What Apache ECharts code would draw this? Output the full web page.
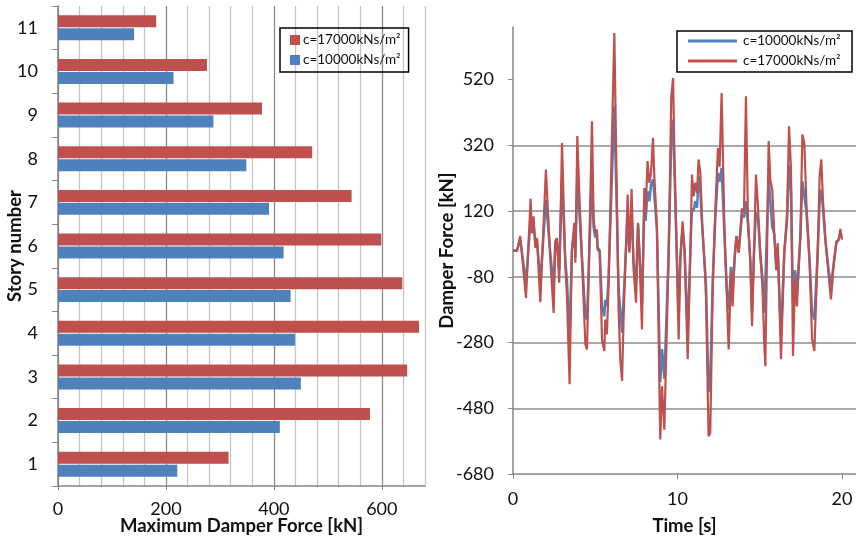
<!DOCTYPE html>
<html><head><meta charset="utf-8">
<script src="https://cdn.jsdelivr.net/npm/echarts@6/dist/echarts.min.js"></script>
<style>html,body{margin:0;padding:0;background:#fff}#c{width:856px;height:539px}</style>
</head><body><div id="c"></div>
<script>
// ---- left chart: maximum damper force per story ----
const stories = ['1','2','3','4','5','6','7','8','9','10','11'];
const maxForceC17000 = [316, 578, 647, 669, 638, 599, 544, 471, 378, 276, 182];
const maxForceC10000 = [221, 411, 450, 439, 431, 418, 391, 349, 288, 214, 141];
const forceTicks = [0, 200, 400, 600];

// ---- right chart: damper force time history ----
const timeSec = [0.00,0.24,0.44,0.50,0.79,1.07,1.15,1.25,1.36,1.46,1.66,2.00,2.27,2.47,2.57,2.67,2.81,2.98,3.18,3.28,3.44,3.58,3.73,3.79,3.91,4.03,4.40,4.50,4.80,4.90,5.00,5.10,5.14,5.27,5.41,5.55,5.61,5.71,5.81,6.16,6.42,6.52,6.63,6.72,6.97,7.07,7.21,7.33,7.48,7.60,7.70,7.84,7.98,8.06,8.18,8.29,8.39,8.51,8.59,8.75,8.95,9.06,9.20,9.46,9.62,9.73,9.81,10.07,10.17,10.31,10.43,10.62,10.78,10.88,10.98,11.08,11.19,11.28,11.39,11.49,11.65,11.73,11.89,11.99,12.14,12.30,12.46,12.56,12.68,12.86,13.00,13.11,13.25,13.35,13.47,13.58,13.72,13.92,14.04,14.16,14.28,14.43,14.53,14.65,14.77,14.89,15.03,15.16,15.28,15.34,15.54,15.64,15.76,15.88,16.01,16.09,16.29,16.49,16.66,16.78,16.90,17.02,17.14,17.26,17.47,17.59,17.71,17.83,18.03,18.18,18.32,18.52,18.64,18.74,18.84,18.99,19.19,19.33,19.49,19.65,19.79,19.90,20.00];
const forceC17000 = [0,-2,44,40,-144,157,53,104,8,38,-157,246,-27,-190,28,38,-98,327,-48,-139,-407,3,84,-37,348,175,-286,-301,393,94,53,64,3,-5,-271,-306,-210,-255,-108,662,-180,-331,-397,-210,170,-7,187,-58,-159,84,-27,-240,190,115,272,206,236,343,226,74,-575,-413,-545,-20,464,525,300,-271,-27,89,-7,-331,-10,231,165,206,175,277,236,94,-48,-139,-565,-555,-120,128,312,255,479,50,-139,-301,-68,-170,-27,44,-7,128,115,469,100,-40,-230,-10,231,135,-10,-108,-291,-352,333,216,185,54,-58,23,-331,-7,115,378,246,-321,-90,-170,50,353,327,150,-40,-271,-306,-10,226,277,155,33,-78,-149,-48,28,30,66,33];
const forceC10000 = [0,0,33,35,-98,94,53,80,20,30,-98,155,-10,-108,20,30,-60,216,-30,-90,-260,0,60,-20,226,120,-200,-210,236,70,40,50,10,0,-169,-200,-150,-170,-80,439,-120,-180,-250,-150,110,0,120,-40,-100,80,-20,-160,130,90,180,150,200,216,170,60,-400,-300,-390,-10,330,398,250,-210,-20,70,0,-250,0,128,120,150,130,226,180,80,-40,-100,-430,-400,-90,100,236,210,251,40,-120,-180,-50,-120,-20,44,-5,110,100,150,80,-30,-190,0,115,100,-10,-80,-190,-190,226,150,70,50,-60,10,-260,-5,90,260,180,-159,-60,-120,40,210,206,120,-30,-190,-210,-5,150,185,130,30,-60,-108,-40,20,35,50,44];
const timeTicks = [0, 10, 20];
const dampTicks = [-680, -480, -280, -80, 120, 320, 520];

const FONT = 'Lato';
const TXT = '#111';
const AX = '#868686';
const LBL = 18;
const NAME = 18.5;
const pairs = (xs, ys) => xs.map((x, i) => [x, ys[i]]);

const chart = echarts.init(document.getElementById('c'), null, {renderer: 'canvas'});
chart.setOption({
  animation: false,
  backgroundColor: '#fff',
  textStyle: {fontFamily: FONT, color: TXT},
  grid: [
    {left: 58, right: 431, top: 6, bottom: 53, containLabel: false, outerBoundsMode: 'none'},
    {left: 513, right: 0, top: 27, bottom: 65, containLabel: false, outerBoundsMode: 'none'}
  ],
  legend: [
    {
      orient: 'vertical', left: 280, top: 28,
      data: ['c=17000kNs/m²', 'c=10000kNs/m²'],
      icon: 'rect', itemWidth: 10, itemHeight: 10, itemGap: 6,
      padding: [5, 8, 5, 10],
      borderColor: '#000', borderWidth: 1.5,
      textStyle: {fontFamily: FONT, fontSize: 13.5, color: TXT, padding: [0,0,0,-2]}
    },
    {
      orient: 'vertical', left: 677, top: 31,
      data: ['c=10000kNs/m² ', 'c=17000kNs/m² '],
      icon: 'rect', itemWidth: 49, itemHeight: 3, itemGap: 6,
      padding: [3, 8, 4, 11],
      borderColor: '#000', borderWidth: 1.5,
      textStyle: {fontFamily: FONT, fontSize: 13.5, color: TXT, padding: [0,0,0,1]}
    }
  ],
  xAxis: [
    {
      gridIndex: 0, type: 'value', min: 0, max: 680, interval: 200,
      name: 'Maximum Damper Force [kN]', nameLocation: 'middle', nameGap: 31, nameMoveOverlap: false,
      nameTextStyle: {fontFamily: FONT, fontSize: NAME, fontWeight: 'bold', color: TXT},
      axisLine: {show: true, lineStyle: {color: AX, width: 1.5}},
      axisTick: {show: true, length: 4, lineStyle: {color: AX}, customValues: forceTicks},
      axisLabel: {fontFamily: FONT, fontSize: LBL, color: TXT, margin: 14, customValues: forceTicks},
      splitLine: {show: false}
    },
    {
      gridIndex: 1, type: 'value', min: 0, max: 20.85, interval: 10,
      name: 'Time [s]', nameLocation: 'middle', nameGap: 43, nameMoveOverlap: false,
      nameTextStyle: {fontFamily: FONT, fontSize: NAME, fontWeight: 'bold', color: TXT},
      axisLine: {show: true, onZero: false, lineStyle: {color: AX, width: 1.5}},
      axisTick: {show: true, length: 5, lineStyle: {color: AX}, customValues: timeTicks},
      axisLabel: {fontFamily: FONT, fontSize: LBL, color: TXT, margin: 16, customValues: timeTicks},
      splitLine: {show: false}
    },
    {
      // vertical grid lines of the left chart (every 40 kN, darker every 200 kN)
      gridIndex: 0, type: 'value', min: 0, max: 680, interval: 40, position: 'bottom',
      axisLine: {show: false}, axisTick: {show: false}, axisLabel: {show: false},
      splitLine: {show: true, lineStyle: {color: ['#8a8a8a', '#c4c4c4', '#c4c4c4', '#c4c4c4', '#c4c4c4'], width: 1.3}}
    }
  ],
  yAxis: [
    {
      gridIndex: 0, type: 'category', data: stories,
      name: 'Story number', nameLocation: 'middle', nameGap: 33, nameRotate: 90, nameMoveOverlap: false,
      nameTextStyle: {fontFamily: FONT, fontSize: NAME, fontWeight: 'bold', color: TXT},
      axisLine: {show: true, lineStyle: {color: AX, width: 1.5}},
      axisTick: {show: true, length: 6, lineStyle: {color: AX}},
      axisLabel: {fontFamily: FONT, fontSize: LBL, color: TXT, margin: 20},
      splitLine: {show: false}
    },
    {
      gridIndex: 1, type: 'value', min: -680, max: 680, interval: 200,
      name: 'Damper Force [kN]', nameLocation: 'middle', nameGap: 56, nameRotate: 90, nameMoveOverlap: false,
      nameTextStyle: {fontFamily: FONT, fontSize: NAME, fontWeight: 'bold', color: TXT},
      axisLine: {show: true, lineStyle: {color: AX, width: 1.5}},
      axisTick: {show: true, length: 5, lineStyle: {color: AX}, customValues: dampTicks},
      axisLabel: {fontFamily: FONT, fontSize: LBL, color: TXT, margin: 19, customValues: dampTicks},
      splitLine: {show: true, showMinLine: false, showMaxLine: false, lineStyle: {color: '#8c8c8c', width: 1.5}}
    }
  ],
  series: [
    {
      name: 'c=17000kNs/m²', type: 'bar', xAxisIndex: 0, yAxisIndex: 0,
      data: maxForceC17000, barWidth: 12, barGap: '8%', z: 3,
      itemStyle: {color: '#C0504D'}
    },
    {
      name: 'c=10000kNs/m²', type: 'bar', xAxisIndex: 0, yAxisIndex: 0,
      data: maxForceC10000, barWidth: 12, barGap: '8%', z: 3,
      itemStyle: {color: '#4F81BD'}
    },
    {
      name: 'c=10000kNs/m² ', type: 'line', xAxisIndex: 1, yAxisIndex: 1,
      data: pairs(timeSec, forceC10000), showSymbol: false, symbol: 'none',
      lineStyle: {color: '#4F81BD', width: 2.5}, itemStyle: {color: '#4F81BD'}
    },
    {
      name: 'c=17000kNs/m² ', type: 'line', xAxisIndex: 1, yAxisIndex: 1,
      data: pairs(timeSec, forceC17000), showSymbol: false, symbol: 'none',
      lineStyle: {color: '#C0504D', width: 2.2}, itemStyle: {color: '#C0504D'}
    }
  ]
});
</script>
</body></html>
